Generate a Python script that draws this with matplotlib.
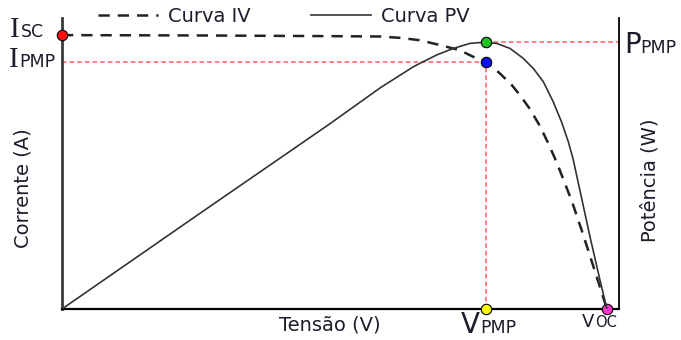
import numpy as np
import matplotlib
matplotlib.use("Agg")
import matplotlib.pyplot as plt
from matplotlib.lines import Line2D

# curva IV (tensão em V, corrente em A)
v_iv = [0.0, 5.47, 10.62, 12.60, 13.40, 14.19, 14.98, 15.77, 16.29, 16.83, 17.36,
        17.82, 18.15, 18.55, 18.94, 19.27, 19.54, 19.74, 20.21, 20.61, 21.01,
        21.24, 21.60]
i_iv = [8.00, 7.99, 7.97, 7.96, 7.92, 7.85, 7.71, 7.56, 7.37, 7.22, 6.88,
        6.55, 6.25, 5.84, 5.35, 4.85, 4.40, 4.04, 3.15, 2.28, 1.37,
        0.84, 0.0]

# curva PV (tensão em V, potência em W)
v_pv = [0.0, 5.47, 10.62, 12.60, 13.91, 14.19, 14.85, 15.51, 16.17, 16.72, 17.23,
        17.76, 18.28, 18.68, 19.08, 19.47, 19.80, 20.07, 20.26, 20.60, 20.93,
        21.32, 21.60]
p_pv = [0.0, 43.7, 84.6, 100.9, 110.5, 112.2, 116.0, 119.0, 121.3, 121.8, 121.3,
        119.0, 114.5, 109.9, 103.8, 94.7, 85.5, 76.4, 68.5, 50.5, 33.0,
        13.5, 0.0]

# pontos notáveis
isc = 8.00
voc = 21.60
v_pmp = 16.80
i_pmp = 7.22
p_pmp = 121.8

V_MAX, I_MAX, P_MAX = 22.08, 8.5, 132.9

TXT = "#1c1c2c"
RED = "#ff5a5a"

fig = plt.figure(figsize=(6.81, 3.40), dpi=100)
ax = fig.add_axes([62 / 681, 31 / 340, 557 / 681, 291 / 340])
ax2 = ax.twinx()

ax.set_xlim(0, V_MAX)
ax.set_ylim(0, I_MAX)
ax2.set_ylim(0, P_MAX)

for a in (ax, ax2):
    a.set_xticks([]); a.set_yticks([])
    a.spines["top"].set_visible(False)
ax.spines["right"].set_visible(False)
ax2.spines["left"].set_visible(False)
ax2.spines["bottom"].set_visible(False)
ax.spines["left"].set_color("#3a3a3a"); ax.spines["left"].set_linewidth(2.0)
ax.spines["bottom"].set_color("black"); ax.spines["bottom"].set_linewidth(1.6)
ax2.spines["right"].set_color("black"); ax2.spines["right"].set_linewidth(1.3)

# linhas de referência do ponto de máxima potência
ax.plot([0, v_pmp], [i_pmp, i_pmp], color=RED, lw=1.1, ls=(0, (3, 2)))
ax.plot([v_pmp, v_pmp], [0, i_pmp], color=RED, lw=1.1, ls=(0, (3, 2)))
ax2.plot([v_pmp, V_MAX], [p_pmp, p_pmp], color=RED, lw=1.1, ls=(0, (3, 2)), clip_on=False)

ax.plot(v_iv, i_iv, color="#222222", lw=1.8, ls=(0, (4.5, 3.2)), solid_joinstyle="round")
ax2.plot(v_pv, p_pv, color="#333333", lw=1.2, solid_joinstyle="round")

mk = dict(marker="o", ms=7.5, mec="black", mew=0.8, clip_on=False, zorder=10, ls="none")
ax.plot([0], [isc], mfc="#ff1010", **mk)
ax.plot([v_pmp], [i_pmp], mfc="#0a14f0", **mk)
ax2.plot([v_pmp], [p_pmp], mfc="#20c020", **mk)
ax.plot([v_pmp], [0], mfc="#ffff00", **mk)
ax.plot([voc], [0], mfc="#ff33cc", **mk)

def px(x, y):
    return x / 681, 1 - y / 340

serif = "Liberation Serif"
sans = "DejaVu Sans"
# rótulos dos pontos
fig.text(*px(10, 37), "I", family=serif, fontsize=21, color=TXT, va="baseline")
fig.text(*px(21, 37), "SC", family=sans, fontsize=12.5, color=TXT, va="baseline")
fig.text(*px(9, 67), "I", family=serif, fontsize=21, color=TXT, va="baseline")
fig.text(*px(19, 67), "PMP", family=sans, fontsize=12.5, color=TXT, va="baseline")
fig.text(*px(624, 53), "P", family=sans, fontsize=20, color=TXT, va="baseline")
fig.text(*px(640, 53), "PMP", family=sans, fontsize=12.5, color=TXT, va="baseline")
fig.text(*px(461, 333), "V", family=sans, fontsize=20, color=TXT, va="baseline")
fig.text(*px(480, 333), "PMP", family=sans, fontsize=12.5, color=TXT, va="baseline")
fig.text(*px(582, 327), "V", family=sans, fontsize=13, color=TXT, va="baseline")
fig.text(*px(595, 327), "OC", family=sans, fontsize=10.5, color=TXT, va="baseline")

fig.text(*px(330, 325), "Tensão (V)", family=sans, fontsize=14, color=TXT,
         ha="center", va="center")
fig.text(*px(23, 188), "Corrente (A)", family=sans, fontsize=14, color=TXT,
         ha="center", va="center", rotation=90)
fig.text(*px(650, 180), "Potência (W)", family=sans, fontsize=14, color=TXT,
         ha="center", va="center", rotation=90)

handles = [Line2D([], [], color="#222222", lw=1.8, ls=(0, (4.5, 3.2))),
           Line2D([], [], color="#333333", lw=1.2)]
fig.legend(handles, ["Curva IV", "Curva PV"], loc="center left",
           bbox_to_anchor=px(98, 16), ncol=2, frameon=False,
           borderpad=0, borderaxespad=0,
           handlelength=3.1, columnspacing=3.1, handletextpad=0.5,
           prop=dict(family=sans, size=14), labelcolor=TXT)

fig.savefig("out.png", dpi=100)
